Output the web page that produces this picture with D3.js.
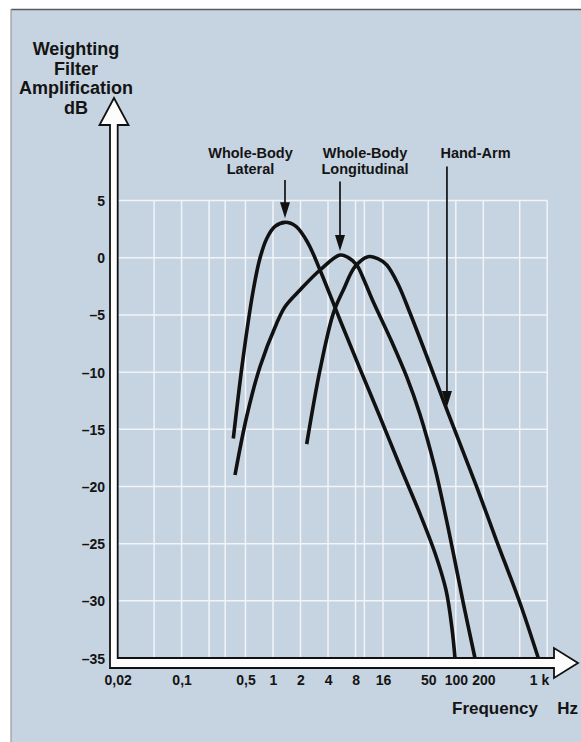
<!DOCTYPE html>
<html><head><meta charset="utf-8">
<script src="https://cdn.jsdelivr.net/npm/d3@7/dist/d3.min.js"></script>
<style>
html,body{margin:0;padding:0;background:#fff;}
svg{display:block;}
text{font-family:"Liberation Sans",Arial,Helvetica,sans-serif;font-weight:bold;fill:#141414;}
</style>
</head><body>
<svg id="chart" width="581" height="742"></svg>
<script>
// ---- data ----
const xTickValues = [0.02, 0.1, 0.5, 1, 2, 4, 8, 16, 50, 100, 200, 1000];
const xTickLabels = ["0,02", "0,1", "0,5", "1", "2", "4", "8", "16", "50", "100", "200", "1 k"];
const xGridValues = [0.05, 0.1, 0.2, 0.3, 0.5, 1, 2, 4, 8, 10, 16, 50, 100, 200, 500, 1000];
const yTickValues = [5, 0, -5, -10, -15, -20, -25, -30, -35];
const yTickLabels = ["5", "0", "\u20135", "\u201310", "\u201315", "\u201320", "\u201325", "\u201330", "\u201335"];

const lateralFreq = [0.368, 0.473, 0.609, 0.721, 0.860, 1.052, 1.353, 1.785, 2.414, 3.268, 5.41, 8.95, 14.82, 24.5, 40.6, 59.2, 78.1, 90.8, 98.0];
const lateralDb   = [-15.8, -8.65, -2.82, -0.02, 1.73, 2.74, 3.10, 2.74, 1.29, -1.07, -5.44, -9.72, -13.92, -18.21, -22.4, -25.82, -29.05, -32.4, -35];

const longitudinalFreq = [0.384, 0.515, 0.721, 1.098, 1.353, 1.975, 3.268, 5.41, 6.615, 8.24, 9.90, 12.11, 20.0, 29.0, 40.6, 59.2, 86.4, 120.8, 162];
const longitudinalDb   = [-19.0, -13.9, -9.53, -5.73, -4.28, -2.82, -1.07, 0.24, 0.03, -0.63, -1.94, -3.60, -7.37, -10.4, -13.7, -18.4, -24.4, -30.2, -35];

const handArmFreq = [2.337, 3.268, 4.57, 5.88, 7.89, 10.95, 14.0, 17.56, 23.3, 31.55, 48.0, 86.4, 169.3, 280, 504, 799];
const handArmDb   = [-16.3, -9.81, -4.86, -2.82, -0.78, 0.10, -0.08, -0.63, -2.29, -4.83, -8.59, -14.01, -20.04, -24.77, -30.19, -35];

const seriesNames = [["Whole-Body", "Lateral"], ["Whole-Body", "Longitudinal"], ["Hand-Arm"]];
const arrowFreq = [1.353, 5.41, 80];
const arrowDb   = [3.1, 0.24, -13.4];

const yTitleLines = ["Weighting", "Filter", "Amplification", "dB"];
const xTitle = ["Frequency", "Hz"];

// ---- drawing ----
const svg = d3.select("#chart");
const x = d3.scaleLog().domain([0.02, 1000]).range([117.7, 547.2]);
const y = d3.scaleLinear().domain([-35, 5]).range([658, 200.6]);

// page background with frame
svg.append("rect").attr("x", 11).attr("y", 9).attr("width", 570).attr("height", 733).attr("fill", "#c6d3e0");
svg.append("line").attr("x1", 11).attr("x2", 581).attr("y1", 9.5).attr("y2", 9.5).attr("stroke", "#5a5a5a").attr("stroke-width", 1.5);
svg.append("line").attr("x1", 11).attr("x2", 11).attr("y1", 9).attr("y2", 742).attr("stroke", "#9a9a9a").attr("stroke-width", 1.2);

// grid
const grid = svg.append("g").attr("stroke", "#f4f7fb").attr("stroke-width", 1.5).attr("opacity", 0.95);
grid.selectAll(".gx").data(xGridValues).join("line")
  .attr("x1", d => x(d)).attr("x2", d => x(d)).attr("y1", y(5)).attr("y2", y(-35));
grid.selectAll(".gy").data(yTickValues).join("line")
  .attr("x1", x(0.02)).attr("x2", x(1000)).attr("y1", d => y(d)).attr("y2", d => y(d));

// curves
const line = d3.line().x(d => x(d[0])).y(d => y(d[1])).curve(d3.curveCatmullRom.alpha(0.5));
const series = [
  d3.zip(lateralFreq, lateralDb),
  d3.zip(longitudinalFreq, longitudinalDb),
  d3.zip(handArmFreq, handArmDb)
];
svg.append("g").selectAll("path").data(series).join("path")
  .attr("d", line).attr("fill", "none").attr("stroke", "#111")
  .attr("stroke-width", 3.6).attr("stroke-linecap", "butt").attr("stroke-linejoin", "round");

// axes (white bars with black outline and arrowheads)
const x0 = x(0.02), yb = y(-35);
const axisPts = [
  [114, 98], [128.5, 125], [x0, 125], [x0, yb], [554, yb], [554, 648], [578, 663],
  [554, 678], [554, 668], [110, 668], [110, 125], [99.5, 125]
];
svg.append("path").attr("d", "M" + axisPts.map(p => p.join(",")).join("L") + "Z")
  .attr("fill", "#fdfdfd").attr("stroke", "#111").attr("stroke-width", 1.8).attr("stroke-linejoin", "miter");

// y tick labels
const yAxis = d3.axisLeft(y).tickValues(yTickValues).tickSize(0).tickPadding(0)
  .tickFormat((d, i) => yTickLabels[i]);
const gy = svg.append("g").attr("transform", "translate(105,0)").call(yAxis);
gy.select(".domain").remove();
gy.selectAll("text").attr("font-size", 14).attr("font-family", null).attr("fill", "#141414").attr("dy", "0.36em");

// x tick labels
const xAxis = d3.axisBottom(x).tickValues(xTickValues).tickSize(0).tickPadding(0)
  .tickFormat((d, i) => xTickLabels[i]);
const gx = svg.append("g").attr("transform", "translate(0,675)").call(xAxis);
gx.select(".domain").remove();
gx.selectAll("text").attr("font-size", 14).attr("font-family", null).attr("fill", "#141414");
gx.selectAll("text").filter(d => d === 1000).attr("text-anchor", "end").attr("x", 1.5);

// y axis title
svg.append("text").attr("x", 76).attr("y", 55).attr("text-anchor", "middle").attr("font-size", 18)
  .selectAll("tspan").data(yTitleLines).join("tspan")
  .attr("x", 76).attr("dy", (d, i) => i === 0 ? 0 : 19.5).text(d => d);

// x axis title
svg.append("text").attr("x", 538).attr("y", 714).attr("text-anchor", "end").attr("font-size", 17).text(xTitle[0]);
svg.append("text").attr("x", 578).attr("y", 714).attr("text-anchor", "end").attr("font-size", 17).text(xTitle[1]);

// annotations
const labelCx = [250.5, 365, 475.5];
const arrowTop = [180, 181.5, 166.5];
seriesNames.forEach((lines, i) => {
  const t = svg.append("text").attr("text-anchor", "middle").attr("font-size", 14.5).attr("y", 157.5);
  lines.forEach((s, j) => t.append("tspan").attr("x", labelCx[i]).attr("dy", j === 0 ? 0 : 16).text(s));
  const ax = x(arrowFreq[i]);
  const tip = y(arrowDb[i]) - 4;
  svg.append("line").attr("x1", ax).attr("x2", ax).attr("y1", arrowTop[i]).attr("y2", tip - 10)
    .attr("stroke", "#111").attr("stroke-width", 1.7);
  svg.append("path").attr("d", `M${ax - 5},${tip - 16}L${ax + 5},${tip - 16}L${ax},${tip}Z`).attr("fill", "#111");
});
</script>
</body></html>
